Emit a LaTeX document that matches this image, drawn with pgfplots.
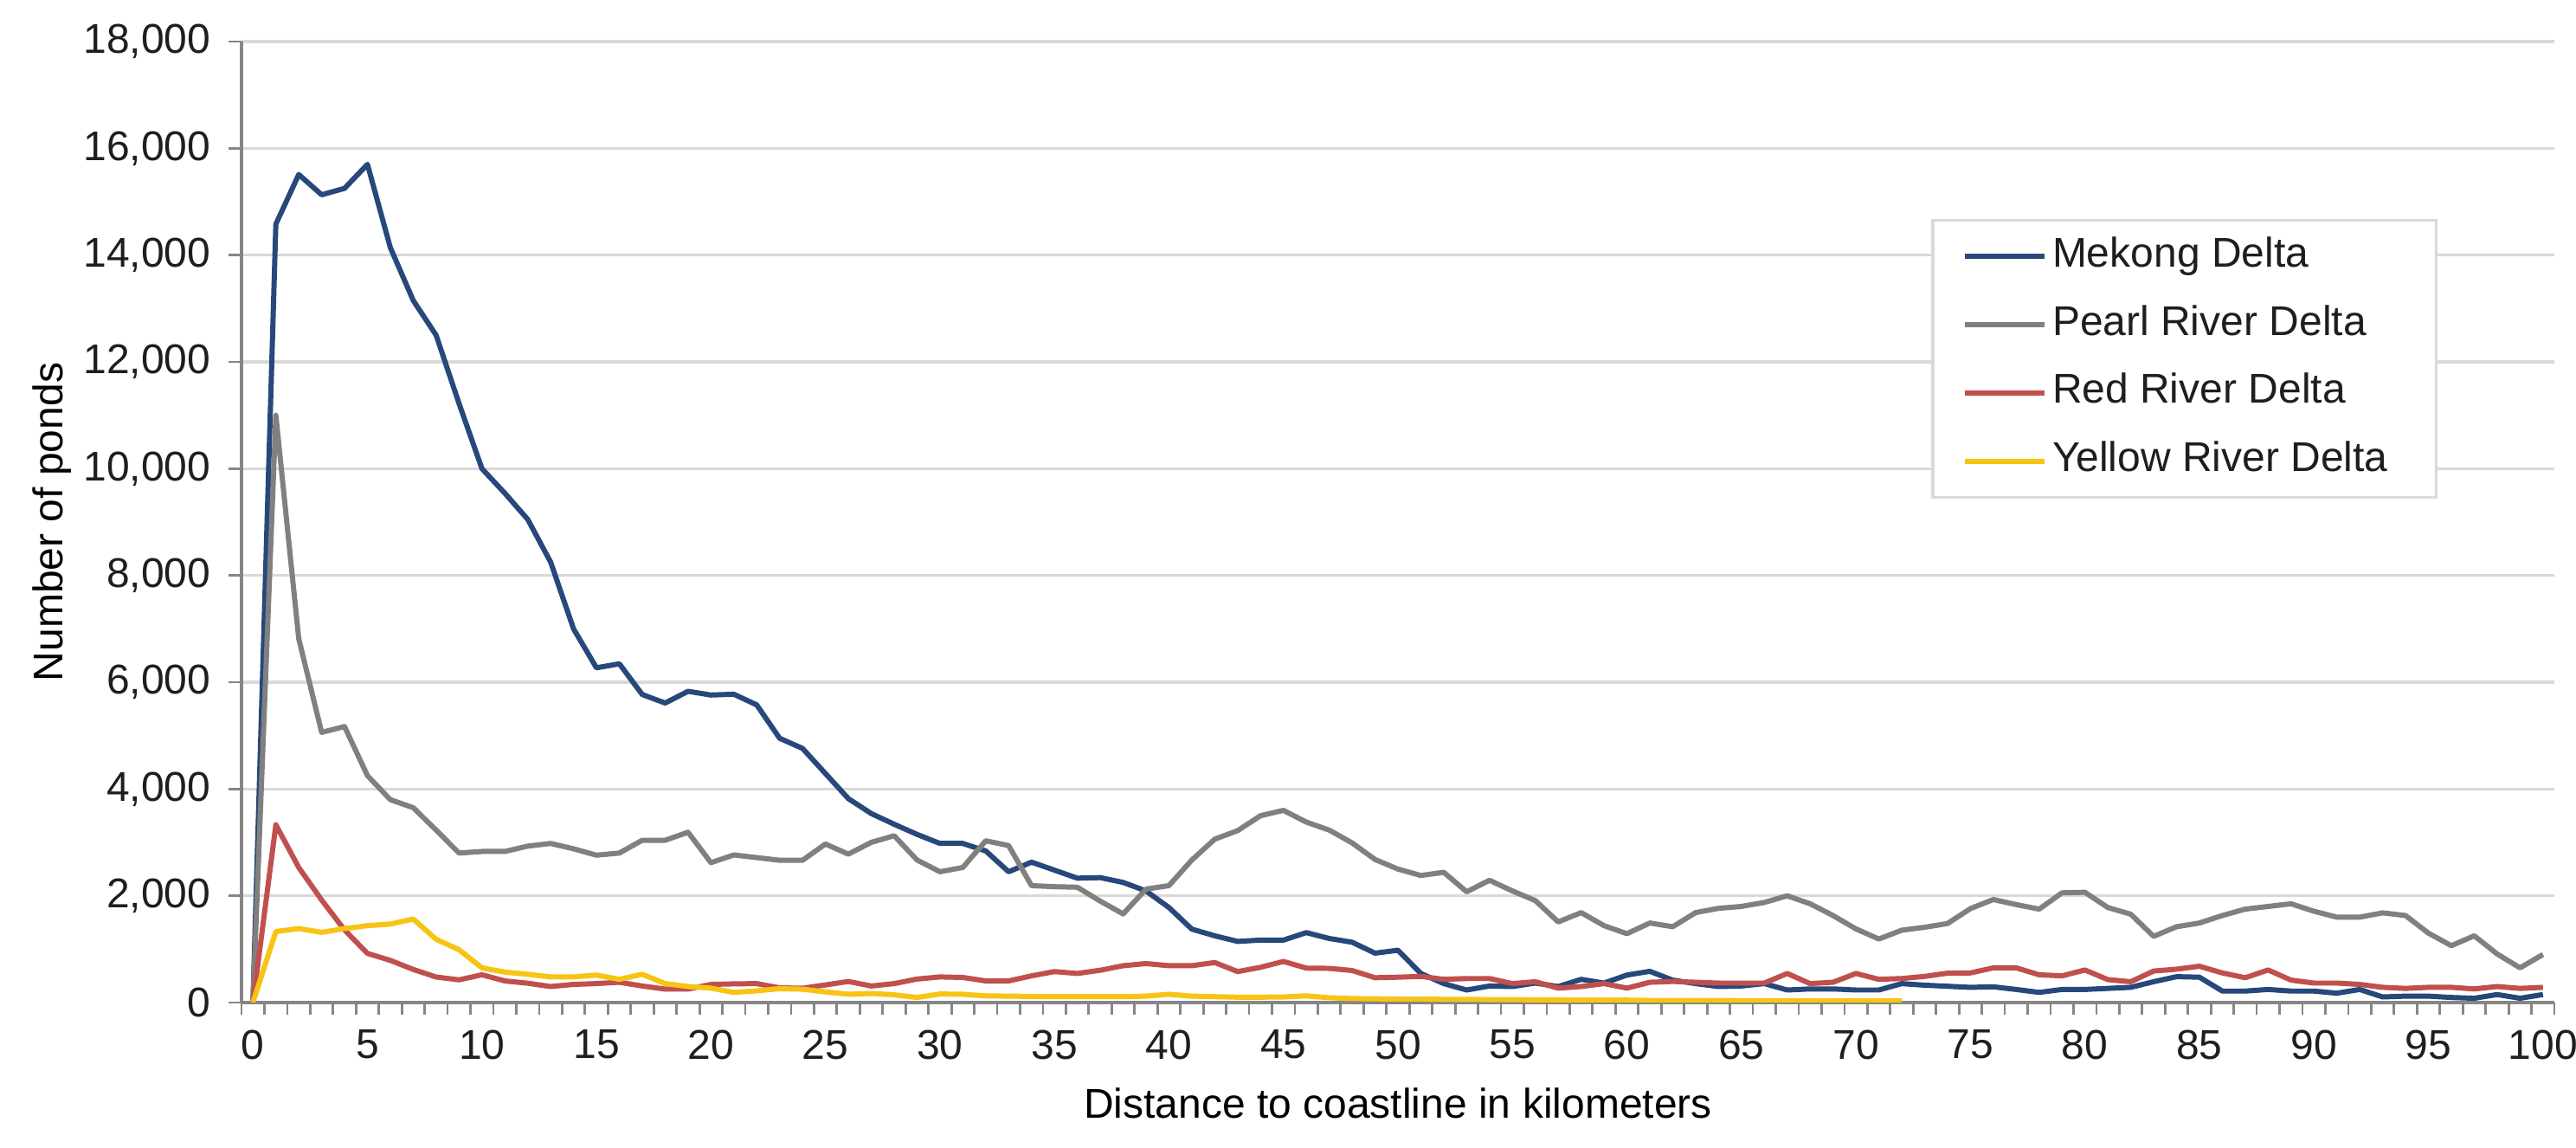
\documentclass[border=0pt]{standalone}
\usepackage{pgfplots}
\usepackage{pgfplotstable}
\pgfplotsset{compat=1.18}
\usepackage{fontspec}
\setmainfont{Liberation Sans}
\definecolor{mekong}{RGB}{38,72,122}
\definecolor{pearl}{RGB}{128,128,128}
\definecolor{redr}{RGB}{192,80,77}
\definecolor{yellowr}{RGB}{247,196,20}
\definecolor{gridc}{RGB}{217,217,217}
\definecolor{axc}{RGB}{134,134,134}
\definecolor{txt}{RGB}{30,30,30}
\pgfplotstableread{
km M P R
0 0 0 0
1 14580 11000 3330
2 15510 6815 2530
3 15130 5060 1920
4 15250 5170 1360
5 15700 4250 920
6 14140 3800 790
7 13150 3650 620
8 12500 3230 478
9 11220 2800 425
10 10000 2830 520
11 9540 2830 405
12 9050 2930 362
13 8250 2980 300
14 7000 2880 340
15 6270 2760 355
16 6345 2800 380
17 5770 3040 310
18 5610 3040 252
19 5830 3190 252
20 5760 2620 340
21 5775 2765 350
22 5575 2715 355
23 4950 2665 275
24 4760 2665 268
25 4290 2970 330
26 3820 2780 395
27 3540 3000 310
28 3340 3125 355
29 3150 2670 440
30 2980 2450 480
31 2980 2530 470
32 2840 3030 405
33 2450 2940 405
34 2630 2190 500
35 2480 2170 580
36 2330 2160 545
37 2340 1900 605
38 2250 1660 690
39 2090 2125 730
40 1780 2190 690
41 1375 2670 690
42 1250 3060 750
43 1145 3220 580
44 1170 3500 660
45 1170 3600 770
46 1310 3380 645
47 1200 3230 640
48 1130 2990 600
49 925 2680 465
50 980 2500 475
51 545 2380 490
52 355 2440 435
53 235 2075 450
54 310 2290 450
55 300 2090 355
56 365 1910 390
57 300 1510 270
58 435 1685 300
59 365 1440 355
60 515 1290 270
61 585 1490 380
62 420 1420 395
63 355 1685 380
64 300 1765 365
65 310 1800 365
66 355 1875 365
67 235 2000 545
68 255 1850 355
69 255 1630 380
70 235 1380 545
71 235 1190 435
72 355 1355 450
73 325 1410 490
74 305 1480 550
75 285 1760 555
76 295 1930 650
77 245 1835 650
78 190 1750 520
79 245 2055 500
80 245 2065 610
81 265 1780 430
82 285 1655 390
83 390 1240 590
84 485 1420 625
85 475 1490 680
86 215 1630 555
87 215 1750 465
88 245 1800 610
89 215 1850 420
90 215 1710 365
91 175 1600 365
92 245 1600 340
93 105 1680 285
94 120 1630 265
95 120 1300 285
96 95 1065 285
97 80 1250 255
98 150 910 300
99 80 650 265
100 150 900 285
}\datatable
\pgfplotstableread{
km Y
0 0
1 1330
2 1385
3 1315
4 1385
5 1440
6 1470
7 1565
8 1185
9 990
10 650
11 570
12 530
13 480
14 480
15 515
16 435
17 530
18 355
19 300
20 270
21 190
22 220
23 260
24 250
25 200
26 155
27 170
28 145
29 95
30 160
31 155
32 125
33 120
34 115
35 110
36 110
37 110
38 110
39 120
40 155
41 120
42 110
43 100
44 100
45 105
46 125
47 90
48 75
49 70
50 65
51 65
52 60
53 60
54 55
55 55
56 50
57 50
58 45
59 45
60 45
61 40
62 40
63 40
64 40
65 35
66 35
67 35
68 35
69 30
70 30
71 30
72 30
}\yellowtable
\begin{document}
\fontsize{12bp}{14bp}\selectfont
\begin{tikzpicture}
\begin{axis}[
  at={(0,0)}, anchor=south west,
  scale only axis, width=668bp, height=277.5bp,
  xmin=-0.5, xmax=100.5, ymin=0, ymax=18000,
  xtick={0,5,...,100},
  minor xtick={-0.5,0.5,...,100.5},
  ytick={0,2000,...,18000},
  major x tick style={draw=none},
  minor tick length=3.4bp, major tick length=3.75bp,
  tick align=outside, tick pos=left,
  axis x line*=bottom, axis y line*=left,
  axis line style={draw=axc, line width=0.8pt},
  every tick/.style={draw=axc, line width=0.7pt},
  ymajorgrids, grid style={draw=gridc, line width=0.8pt},
  /pgf/number format/assume math mode=true,
  /pgf/number format/fixed,
  /pgf/number format/1000 sep={,},
  scaled y ticks=false,
  ticklabel style={font=\fontsize{12bp}{14bp}\selectfont, text=txt},
  yticklabel style={xshift=-1bp},
  xlabel={Distance to coastline in kilometers},
  ylabel={Number of ponds},
  label style={font=\fontsize{12bp}{14bp}\selectfont, text=txt},
  every axis x label/.style={at={(axis description cs:0.5,-0.1204)}, anchor=base},
  every axis y label/.style={at={(axis description cs:-0.082,0.5)}, rotate=90, anchor=center},
  legend cell align=left,
  legend image code/.code={\draw[#1] (0bp,0bp) -- (23bp,0bp);},
  legend style={at={(axis cs:73.3,14680)}, anchor=north west, draw=gridc, line width=0.8pt,
    font=\fontsize{12bp}{14bp}\selectfont, text=txt,
    inner xsep=8.5bp, inner ysep=3bp, row sep=4.7bp,
    nodes={inner sep=1.5bp, text height=9bp, text depth=3bp}},
  every axis plot/.append style={line width=1.5pt, line join=round},
]
\addplot[color=mekong] table[x=km,y=M]{\datatable};
\addlegendentry{Mekong Delta}
\addplot[color=pearl] table[x=km,y=P]{\datatable};
\addlegendentry{Pearl River Delta}
\addplot[color=redr] table[x=km,y=R]{\datatable};
\addlegendentry{Red River Delta}
\addplot[color=yellowr] table[x=km,y=Y]{\yellowtable};
\addlegendentry{Yellow River Delta\hspace*{4bp}}
\end{axis}
\pgfresetboundingbox
\path[use as bounding box] (-69.75bp,-42bp) rectangle (674.25bp,289.5bp);
\end{tikzpicture}
\end{document}
